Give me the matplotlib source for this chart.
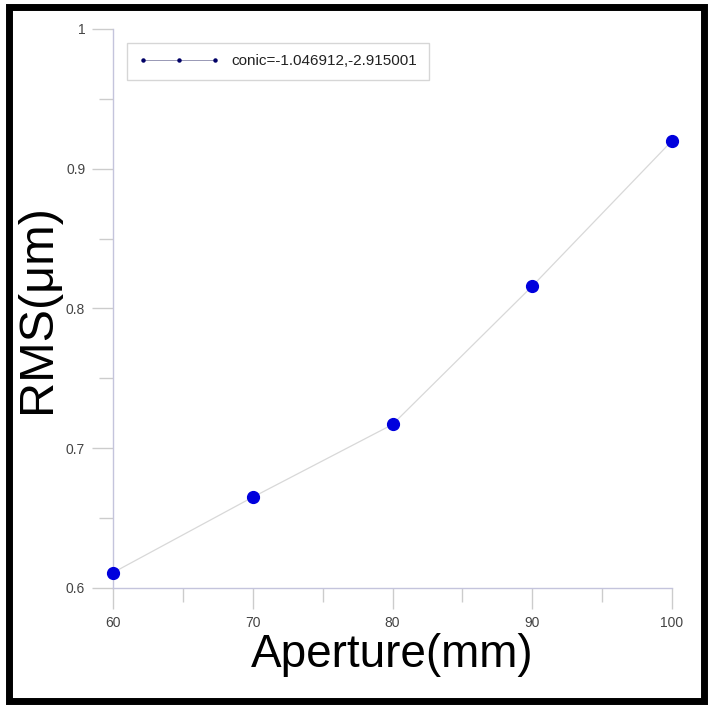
import matplotlib
matplotlib.use("Agg")
import matplotlib.pyplot as plt
from matplotlib.lines import Line2D
from matplotlib.patches import Rectangle
from matplotlib.ticker import MultipleLocator, FuncFormatter

aperture = [60, 70, 80, 90, 100]
rms = [0.611, 0.665, 0.717, 0.816, 0.920]
legend_label = 'conic=-1.046912,-2.915001'

plt.rcParams['font.family'] = ['Liberation Sans', 'DejaVu Sans']

fig = plt.figure(figsize=(7.09, 7.07), dpi=100)
ax = fig.add_axes([113 / 709, 1 - 588 / 707, 559 / 709, 559 / 707])

ax.plot(aperture, rms, '-', color='#d8d8d8', lw=0.9, zorder=2, clip_on=False)
ax.plot(aperture, rms, 'o', color='#0000dd', ms=8.5, mec='#0000dd', zorder=3, clip_on=False)

ax.set_xlim(60, 100)
ax.set_ylim(0.6, 1.0)
ax.xaxis.set_major_locator(MultipleLocator(10))
ax.xaxis.set_minor_locator(MultipleLocator(5))
ax.yaxis.set_major_locator(MultipleLocator(0.1))
ax.yaxis.set_minor_locator(MultipleLocator(0.05))
ax.yaxis.set_major_formatter(FuncFormatter(lambda v, p: '{:g}'.format(round(v, 2))))

for s in ['top', 'right']:
    ax.spines[s].set_visible(False)
for s in ['left', 'bottom']:
    ax.spines[s].set_color('#c4c4dc')
    ax.spines[s].set_linewidth(1.0)

ax.tick_params(which='major', length=15, width=1.0, color='#cccccc',
               labelsize=10, labelcolor='#444444', pad=5)
ax.tick_params(which='minor', length=10, width=1.0, color='#cccccc')

ax.set_xlabel('Aperture(mm)', fontsize=33, labelpad=2)
ax.set_ylabel('RMS(\u03bcm)', fontsize=35, labelpad=4)

handle = Line2D([], [], color='#8888aa', lw=0.6, marker='o', ms=2.2,
                mfc='#000066', mec='#000066')
leg = ax.legend([handle], [legend_label], loc='upper left', numpoints=3,
                bbox_to_anchor=(14 / 559, 1 - 14 / 559), borderaxespad=0,
                fontsize=11, frameon=True, fancybox=False, handlelength=5.3,
                handletextpad=0.8, borderpad=0.75, labelcolor='#222222')
leg.get_frame().set_edgecolor('#cccccc')
leg.get_frame().set_linewidth(1.0)

fig.patches.append(Rectangle((8.5 / 709, 1 - 700.5 / 707), 695 / 709, 694 / 707,
                             transform=fig.transFigure, fill=False,
                             edgecolor='black', linewidth=5.0))

fig.savefig('out.png', dpi=100)
